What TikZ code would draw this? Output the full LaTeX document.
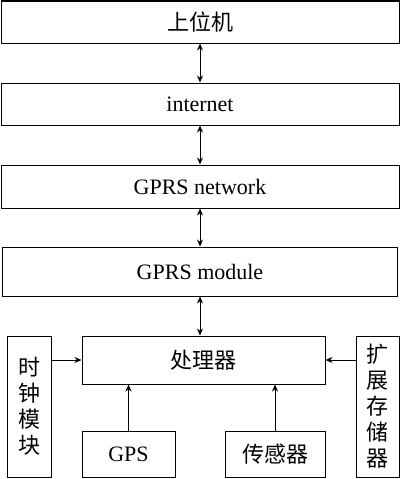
\documentclass[tikz,border=0pt]{standalone}
\usepackage{fontspec}
\setmainfont{Liberation Serif}
\newfontfamily\cjk{Noto Sans CJK SC}
\usetikzlibrary{arrows.meta}
\begin{document}
\begin{tikzpicture}[x=1pt,y=-1pt,
  box/.style={draw,line width=1pt,inner sep=0pt,font=\fontsize{22}{26}\selectfont},
  link/.style={line width=1pt,{Stealth[length=7pt,width=6pt]}-{Stealth[length=7pt,width=6pt]}},
  feed/.style={line width=1pt,-{Stealth[length=7pt,width=6pt]}}]
\useasboundingbox (0,0) rectangle (400,479);
\node[box,minimum width=398pt,minimum height=42pt] (pc) at (200,22) {\cjk 上位机};
\node[box,minimum width=398pt,minimum height=42pt] (net) at (200,104) {internet};
\node[box,minimum width=398pt,minimum height=43pt] (gnet) at (200,186.5) {GPRS network};
\node[box,minimum width=395pt,minimum height=49pt] (gmod) at (200,271.5) {GPRS module};
\node[box,minimum width=243pt,minimum height=48pt] (cpu) at (203.5,360) {\cjk 处理器};
\node[box,minimum width=44pt,minimum height=141pt,align=center] (clk) at (29,406.5) {\cjk 时\\\cjk 钟\\\cjk 模\\\cjk 块};
\node[box,minimum width=43pt,minimum height=141pt,align=center] (mem) at (377.5,406.5) {\cjk 扩\\\cjk 展\\\cjk 存\\\cjk 储\\\cjk 器};
\node[box,minimum width=93pt,minimum height=46pt] (gps) at (128.5,454) {GPS};
\node[box,minimum width=100pt,minimum height=46pt] (sen) at (275,454) {\cjk 传感器};
\draw[link] (pc.south) -- (net.north);
\draw[link] (net.south) -- (gnet.north);
\draw[link] (gnet.south) -- (gmod.north);
\draw[link] (gmod.south) -- (cpu.north -| gmod.south);
\draw[feed] (clk.east |- cpu.west) -- (cpu.west);
\draw[feed] (mem.west |- cpu.east) -- (cpu.east);
\draw[feed] (gps.north) -- (gps.north |- cpu.south);
\draw[feed] (sen.north) -- (cpu.south -| sen.north);
\end{tikzpicture}
\end{document}
